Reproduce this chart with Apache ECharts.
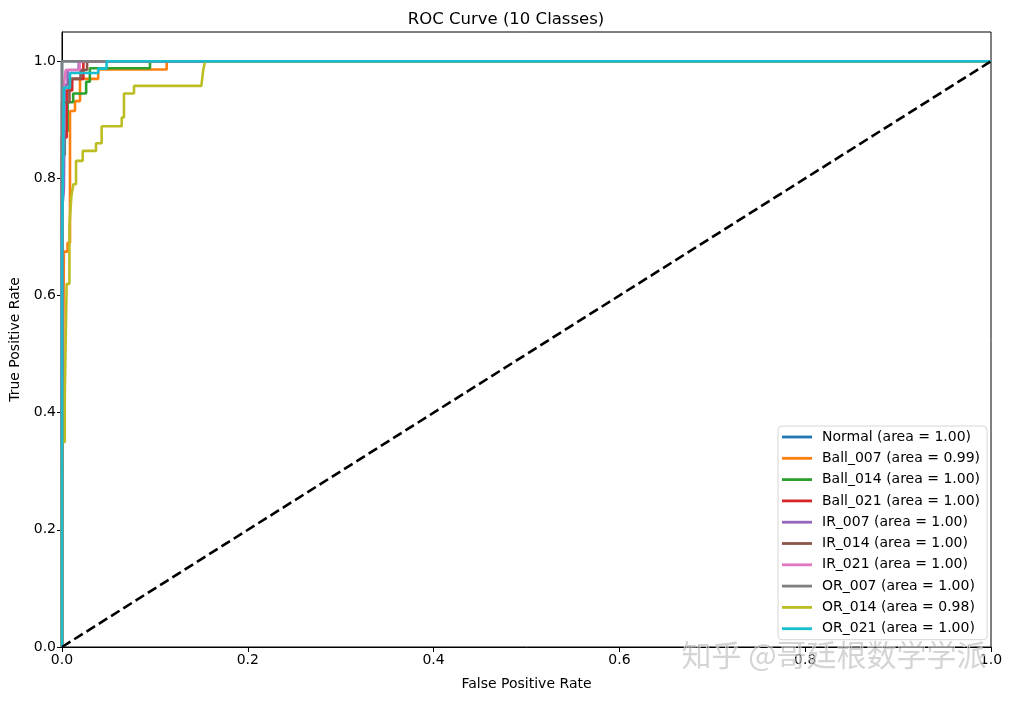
<!DOCTYPE html>
<html>
<head>
<meta charset="utf-8">
<script src="https://cdn.jsdelivr.net/npm/echarts@6/dist/echarts.min.js"></script>
<style>html,body{margin:0;padding:0;background:#fff}#c{width:1012px;height:701px}</style>
</head>
<body>
<div id="c"></div>
<script>
// ---- data (fpr, tpr) ----
const classNames = ['Normal','Ball_007','Ball_014','Ball_021','IR_007','IR_014','IR_021','OR_007','OR_014','OR_021'];
const aucValues = [1.00, 0.99, 1.00, 1.00, 1.00, 1.00, 1.00, 1.00, 0.98, 1.00];
const rocNormal = [[0,0],[0,1],[1,1]];
const rocBall007 = [[0,0],[0.001,0.43],[0.002,0.43],[0.002,0.675],[0.006,0.675],[0.006,0.69],[0.0086,0.69],[0.0086,0.915],[0.014,0.915],[0.014,0.932],[0.0194,0.932],[0.0194,0.97],[0.039,0.97],[0.039,0.986],[0.1127,0.986],[0.1127,1],[1,1]];
const rocBall014 = [[0,0],[0,0.84],[0.003,0.84],[0.003,0.88],[0.006,0.88],[0.006,0.93],[0.012,0.93],[0.012,0.945],[0.026,0.945],[0.026,0.965],[0.03,0.965],[0.03,0.988],[0.0947,0.988],[0.0947,1],[1,1]];
const rocBall021 = [[0,0],[0,0.87],[0.005,0.87],[0.005,0.95],[0.011,0.95],[0.011,0.97],[0.023,0.97],[0.023,1],[1,1]];
const rocIR007 = [[0,0],[0,0.745],[0.002,0.745],[0.002,0.78],[0.003,0.78],[0.003,0.96],[0.006,0.96],[0.006,0.985],[0.018,0.985],[0.018,1],[1,1]];
const rocIR014 = [[0,0],[0,0.93],[0.008,0.93],[0.008,0.97],[0.02,0.97],[0.02,0.985],[0.027,0.985],[0.027,1],[1,1]];
const rocIR021 = [[0,0],[0,0.78],[0.002,0.78],[0.002,0.96],[0.004,0.96],[0.004,0.985],[0.019,0.985],[0.019,1],[1,1]];
const rocOR007 = [[0,0],[0,1],[1,1]];
const rocOR014 = [[0,0],[0,0.35],[0.003,0.35],[0.003,0.43],[0.005,0.43],[0.005,0.62],[0.008,0.62],[0.008,0.72],[0.0101,0.72],[0.0101,0.77],[0.0122,0.77],[0.0122,0.79],[0.0151,0.79],[0.0151,0.83],[0.0223,0.83],[0.0223,0.847],[0.0366,0.847],[0.0366,0.86],[0.0427,0.86],[0.0427,0.889],[0.0643,0.889],[0.0643,0.904],[0.0667,0.904],[0.0667,0.945],[0.0775,0.945],[0.0775,0.958],[0.150,0.958],[0.152,0.985],[0.154,1],[1,1]];
const rocOR021 = [[0,0],[0,0.68],[0.002,0.68],[0.002,0.955],[0.0086,0.955],[0.0086,0.98],[0.039,0.98],[0.039,0.9875],[0.048,0.9875],[0.048,1],[1,1]];
const chanceLine = [[0,0],[1,1]];
const xTicks = [0, 0.2, 0.4, 0.6, 0.8, 1.0];
const yTicks = [0, 0.2, 0.4, 0.6, 0.8, 1.0];

const curves = [rocNormal, rocBall007, rocBall014, rocBall021, rocIR007, rocIR014, rocIR021, rocOR007, rocOR014, rocOR021];
const colors = ['#1f77b4','#ff7f0e','#2ca02c','#d62728','#9467bd','#8c564b','#e377c2','#7f7f7f','#bcbd22','#17becf'];
const FONT = 'DejaVu Sans';
const LW = 2.6;

const labels = classNames.map((n, i) => n + ' (area = ' + aucValues[i].toFixed(2) + ')');
const series = curves.map((d, i) => ({
  name: labels[i], type: 'line', data: d, symbol: 'none', showSymbol: false,
  lineStyle: { color: colors[i], width: LW }, itemStyle: { color: colors[i] },
  animation: false, z: 2
}));
series.push({
  name: 'chance', type: 'line', data: chanceLine, symbol: 'none',
  lineStyle: { color: '#000', width: LW, type: [10, 4.5] }, animation: false, z: 3
});

const chart = echarts.init(document.getElementById('c'), null, { renderer: 'canvas' });
chart.setOption({
  backgroundColor: '#fff',
  animation: false,
  textStyle: { fontFamily: FONT },
  title: {
    text: 'ROC Curve (10 Classes)', left: 'center', top: 6,
    textStyle: { fontFamily: FONT, fontSize: 16.5, fontWeight: 'normal', color: '#000' }
  },
  grid: { left: 62, right: 21, top: 32, bottom: 54, show: true, borderColor: '#000', borderWidth: 1, containLabel: false },
  xAxis: {
    type: 'value', min: 0, max: 1, interval: 0.2,
    name: 'False Positive Rate', nameLocation: 'middle', nameGap: 30,
    nameTextStyle: { fontFamily: FONT, fontSize: 14, color: '#000' },
    axisLine: { show: true, lineStyle: { color: '#000', width: 1 } },
    axisTick: { show: true, inside: false, length: 5, lineStyle: { color: '#000' } },
    axisLabel: { fontFamily: FONT, fontSize: 14, color: '#000', margin: 6,
      formatter: v => { const t = xTicks.find(k => Math.abs(k - v) < 1e-9); return t === undefined ? '' : t.toFixed(1); } },
    splitLine: { show: false }
  },
  yAxis: {
    type: 'value', min: 0, max: 1.05, interval: 0.2,
    name: 'True Positive Rate', nameLocation: 'middle', nameGap: 40, nameRotate: 90,
    nameTextStyle: { fontFamily: FONT, fontSize: 14, color: '#000' },
    axisLine: { show: true, lineStyle: { color: '#000', width: 1 } },
    axisTick: { show: true, inside: false, length: 5, lineStyle: { color: '#000' } },
    axisLabel: { fontFamily: FONT, fontSize: 14, color: '#000', margin: 6, showMaxLabel: false,
      formatter: v => { const t = yTicks.find(k => Math.abs(k - v) < 1e-9); return t === undefined ? '' : t.toFixed(1); } },
    splitLine: { show: false }
  },
  legend: {
    data: labels, orient: 'vertical', left: 778, top: 426,
    itemWidth: 30, itemHeight: 14, itemGap: 7.3,
    padding: [4, 7, 4, 4],
    backgroundColor: 'rgba(255,255,255,0.85)', borderColor: '#d6d6d6', borderWidth: 1, borderRadius: 4,
    textStyle: { fontFamily: FONT, fontSize: 14, color: '#000', padding: [0, 0, 0, 5] },
    icon: 'path://M0,5.6 L30,5.6 L30,8.4 L0,8.4 Z',
    itemStyle: { borderWidth: 0 }
  },
  graphic: [{
    type: 'text', left: 681, top: 639, z: 100, silent: true,
    style: { text: '知乎 @哥廷根数学学派', fontFamily: 'Noto Sans CJK SC', fontSize: 30,
      fill: 'rgba(170,170,170,0.5)', stroke: 'rgba(255,255,255,0.7)', lineWidth: 1 }
  }],
  series: series
});
</script>
</body>
</html>
